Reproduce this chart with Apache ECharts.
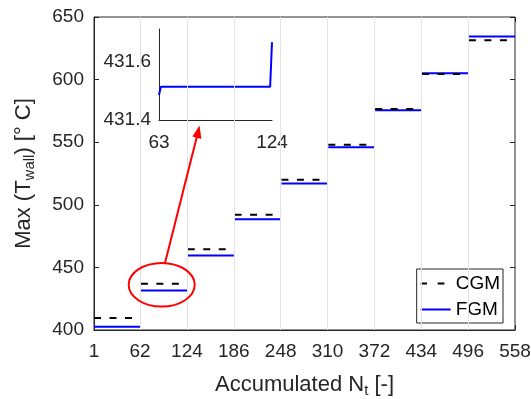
<!DOCTYPE html>
<html>
<head>
<meta charset="utf-8">
<script src="https://cdn.jsdelivr.net/npm/echarts@6/dist/echarts.min.js"></script>
<style>
html,body{margin:0;padding:0;background:#fff;}
#c{width:531px;height:399px;}
</style>
</head>
<body>
<div id="c"></div>
<script>
// ---- data ----
const xTicks = [1, 62, 124, 186, 248, 310, 372, 434, 496, 558];
const segStart = [1, 63, 125, 187, 249, 311, 373, 435, 497];
const segEnd = [62, 124, 186, 248, 310, 372, 434, 496, 558];
const cgm = [409.5, 437, 464.5, 492, 520, 548, 576.5, 604.5, 631.5];
const fgm = [402.5, 431.5, 459.5, 488.5, 517, 546, 575.5, 605, 634.5];
const insetN = [63, 64, 123, 124];
const insetFgm = [431.485, 431.513, 431.513, 431.665];
const insetTicksX = [63, 124];
const insetTicksY = [431.4, 431.6];

const FONT = 'Liberation Sans, Arial, Helvetica, sans-serif';
const TXT = '#262626';

function steps(vals) {
  const out = [];
  vals.forEach((v, i) => {
    out.push([segStart[i], v]);
    out.push([segEnd[i], v]);
    out.push([segEnd[i], '-']);
  });
  return out;
}

const chart = echarts.init(document.getElementById('c'), null, {renderer: 'canvas'});

const option = {
  animation: false,
  backgroundColor: '#fff',
  textStyle: {fontFamily: FONT, color: TXT},
  grid: [
    {left: 94, right: 16, top: 17, bottom: 69, containLabel: false, outerBoundsMode: 'none',
     show: true, borderColor: TXT, borderWidth: 1, backgroundColor: 'transparent'},
    {left: 159, top: 29, width: 113, height: 91, containLabel: false, outerBoundsMode: 'none'}
  ],
  legend: {
    right: 28, top: 269, orient: 'vertical',
    backgroundColor: '#fff',
    borderColor: TXT, borderWidth: 1, borderRadius: 0,
    padding: [5, 3, 4, 4], itemGap: 7,
    itemWidth: 30, itemHeight: 2,
    itemStyle: {borderWidth: 0},
    textStyle: {fontFamily: FONT, fontSize: 19, color: '#000'},
    data: [
      {name: 'CGM', icon: 'path://M0,0H6.3V2H0Z M17,0H23.7V2H17Z M30,0L30,2L30,0Z'},
      {name: 'FGM', icon: 'path://M0,0H30V2H0Z'}
    ]
  },
  xAxis: [
    {
      type: 'value', gridIndex: 0, min: 1, max: 558,
      name: 'Accumulated N{sub|t} [-]', nameLocation: 'middle', nameGap: 42,
      nameTextStyle: {fontFamily: FONT, fontSize: 22, color: TXT,
        rich: {sub: {fontFamily: FONT, fontSize: 15, color: TXT, padding: [11, 0, 0, 0]}}},
      axisLine: {show: true, lineStyle: {color: TXT}},
      axisTick: {show: true, inside: true, length: 5, customValues: xTicks, lineStyle: {color: TXT}},
      axisLabel: {customValues: xTicks, fontFamily: FONT, fontSize: 19, color: TXT, margin: 12},
      splitLine: {show: false}
    },
    {
      type: 'value', gridIndex: 0, min: 1, max: 558, position: 'top',
      axisLine: {show: false},
      axisTick: {show: true, inside: true, length: 5, customValues: xTicks, lineStyle: {color: TXT}},
      axisLabel: {show: false},
      splitLine: {show: false}
    },
    {
      type: 'value', gridIndex: 1, min: 63, max: 124,
      axisLine: {show: true, lineStyle: {color: TXT}},
      axisTick: {show: false},
      axisLabel: {customValues: insetTicksX, fontFamily: FONT, fontSize: 19, color: TXT, margin: 13},
      splitLine: {show: false}
    }
  ],
  yAxis: [
    {
      type: 'value', gridIndex: 0, min: 400, max: 650, interval: 50,
      name: 'Max (T{sub|wall}) [° C]', nameLocation: 'middle', nameGap: 57, nameRotate: 90,
      nameTextStyle: {fontFamily: FONT, fontSize: 22, color: TXT,
        rich: {sub: {fontFamily: FONT, fontSize: 15, color: TXT, padding: [11, 0, 0, 0]}}},
      axisLine: {show: true, lineStyle: {color: TXT}},
      axisTick: {show: true, inside: true, length: 5, lineStyle: {color: TXT}},
      axisLabel: {fontFamily: FONT, fontSize: 19, color: TXT, margin: 10},
      splitLine: {show: false}
    },
    {
      type: 'value', gridIndex: 0, min: 400, max: 650, interval: 50, position: 'right',
      axisLine: {show: false},
      axisTick: {show: true, inside: true, length: 5, lineStyle: {color: TXT}},
      axisLabel: {show: false},
      splitLine: {show: false}
    },
    {
      type: 'value', gridIndex: 1, min: 431.4, max: 431.71,
      axisLine: {show: true, lineStyle: {color: TXT}},
      axisTick: {show: false},
      axisLabel: {customValues: insetTicksY, formatter: v => v.toFixed(1), fontFamily: FONT, fontSize: 19, color: TXT, margin: 8},
      splitLine: {show: false}
    }
  ],
  series: [
    {
      name: 'gridlines', type: 'line', xAxisIndex: 0, yAxisIndex: 0, data: [], z: 0, silent: true,
      markLine: {
        silent: true, symbol: 'none', label: {show: false},
        lineStyle: {color: '#e3e3e3', width: 1, type: 'solid'},
        data: xTicks.slice(1, -1).map(v => ({xAxis: v}))
      }
    },
    {
      name: 'CGM', type: 'line', xAxisIndex: 0, yAxisIndex: 0, data: steps(cgm),
      symbol: 'none', connectNulls: false, z: 3,
      lineStyle: {color: '#000', width: 2, type: [7, 8.5], cap: 'butt'},
      itemStyle: {color: '#000'}
    },
    {
      name: 'FGM', type: 'line', xAxisIndex: 0, yAxisIndex: 0, data: steps(fgm),
      symbol: 'none', connectNulls: false, z: 2,
      lineStyle: {color: '#0000ff', width: 2, type: 'solid'},
      itemStyle: {color: '#0000ff'}
    },
    {
      name: 'inset', type: 'line', xAxisIndex: 2, yAxisIndex: 2,
      data: insetN.map((n, i) => [n, insetFgm[i]]),
      symbol: 'none', z: 4,
      lineStyle: {color: '#0000ff', width: 2}
    }
  ],
  graphic: [
    {type: 'ellipse', shape: {cx: 161.7, cy: 284.8, rx: 33, ry: 21.8},
     style: {fill: 'none', stroke: '#ff0000', lineWidth: 2}, z: 10},
    {type: 'line', shape: {x1: 165, y1: 263, x2: 197.3, y2: 135},
     style: {stroke: '#ff0000', lineWidth: 2}, z: 10},
    {type: 'polygon', shape: {points: [[199.5, 125.5], [201.4, 138.9], [192.4, 136.6]]},
     style: {fill: '#ff0000'}, z: 10}
  ]
};
chart.setOption(option);
</script>
</body>
</html>
